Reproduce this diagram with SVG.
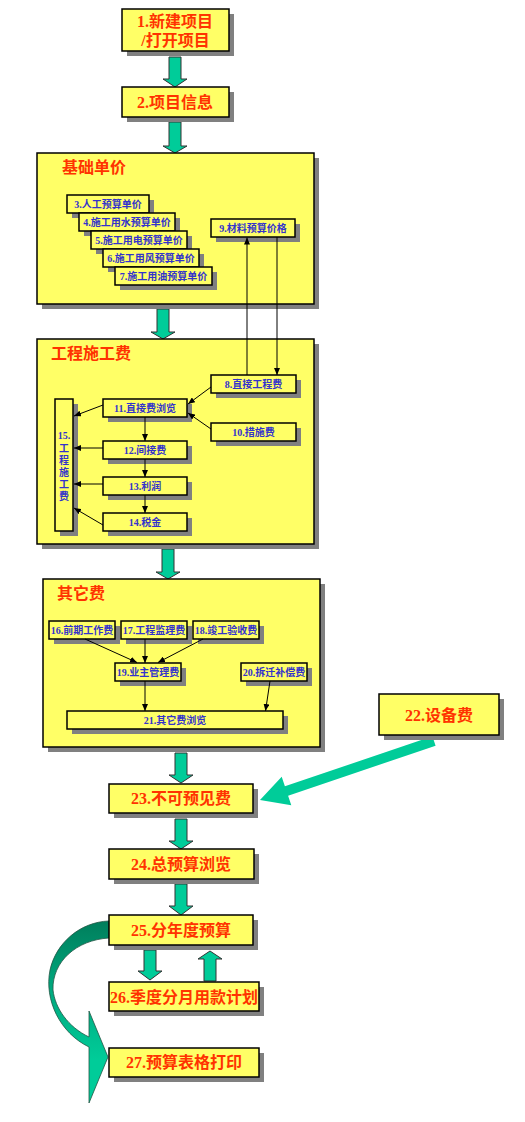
<svg xmlns="http://www.w3.org/2000/svg" width="525" height="1122" viewBox="0 0 525 1122">
<style>
.box{fill:#FFFF66;stroke:#000;stroke-width:1.5}
.sh{fill:#808080}
.big{font-family:"Liberation Serif","Noto Sans CJK SC",serif;font-weight:bold;font-size:16px;fill:#FF3300;text-anchor:middle}
.ttl{font-family:"Liberation Serif","Noto Sans CJK SC",serif;font-weight:bold;font-size:16px;fill:#FF3300}
.sm{font-family:"Liberation Serif","Noto Sans CJK SC",serif;font-weight:bold;font-size:10px;fill:#3333CC;text-anchor:middle}
.ga{fill:#00CC99;stroke:#333;stroke-width:1}
.ln{stroke:#000;stroke-width:1;fill:none;marker-end:url(#ah)}
</style>
<defs>
<marker id="ah" markerUnits="userSpaceOnUse" markerWidth="7" markerHeight="6" refX="7" refY="3" orient="auto">
<path d="M0,0 L7,3 L0,6 z" fill="#000"/>
</marker>
<linearGradient id="cg" gradientUnits="userSpaceOnUse" x1="0" y1="915" x2="0" y2="1060">
<stop offset="0" stop-color="#007A58"/>
<stop offset="0.45" stop-color="#00A37A"/>
<stop offset="1" stop-color="#00CC99"/>
</linearGradient>
</defs>
<rect width="525" height="1122" fill="#fff"/>

<!-- big green arrows -->
<g id="flow-arrows">
<polygon class="ga" points="169,57 181,57 181,79 187,79 175,87 163,79 169,79"/>
<polygon class="ga" points="169,122 181,122 181,146 187,146 175,153 163,146 169,146"/>
<polygon class="ga" points="157,309 169,309 169,332 175,332 163,339 151,332 157,332"/>
<polygon class="ga" points="162,549 174,549 174,572 180,572 168,579 156,572 162,572"/>
<polygon class="ga" points="175,753 187,753 187,775 193,775 181,783 169,775 175,775"/>
<polygon class="ga" points="175,819 187,819 187,841 193,841 181,849 169,841 175,841"/>
<polygon class="ga" points="175,884 187,884 187,906 193,906 181,915 169,906 175,906"/>
<polygon class="ga" points="144,950 156,950 156,971 162,971 150,980 138,971 144,971"/>
<polygon class="ga" points="204,981 216,981 216,959 222,959 210,951 198,959 204,959"/>
<polygon fill="#00CC99" points="260,800 281.7,776.8 284.9,786.3 432.4,736.3 435.6,745.7 288.1,795.7 291.3,805.2"/>
<path fill="url(#cg)" stroke="#225544" stroke-width="0.8" d="M109,921 C 80,922 56,943 50,970 C 44,1000 60,1033 89,1047 L 89,1103 L 108,1057 L 89,1011 L 89,1037 C 68,1027 55,1008 53,990 C 52,962 76,940 109,938 Z"/>
</g>

<!-- panels -->
<g id="panel-jichu">
<rect class="sh" x="42" y="158" width="277" height="151"/>
<rect class="box" x="37" y="153" width="277" height="151"/>
<text class="ttl" x="62" y="173">基础单价</text>
</g>
<g id="panel-gongcheng">
<rect class="sh" x="42" y="344" width="277" height="205"/>
<rect class="box" x="37" y="339" width="277" height="205"/>
<text class="ttl" x="51" y="359">工程施工费</text>
</g>
<g id="panel-qita">
<rect class="sh" x="48" y="584" width="277" height="168"/>
<rect class="box" x="43" y="579" width="277" height="168"/>
<text class="ttl" x="57" y="599">其它费</text>
</g>

<!-- main nodes -->
<g id="n1">
<rect class="sh" x="127" y="14" width="107" height="42"/>
<rect class="box" x="122" y="9" width="107" height="42"/>
<text class="big" x="175" y="27">1.新建项目</text>
<text class="big" x="175.5" y="46">/打开项目</text>
</g>
<g id="n2">
<rect class="sh" x="127" y="92" width="107" height="30"/>
<rect class="box" x="122" y="87" width="107" height="30"/>
<text class="big" x="175" y="108">2.项目信息</text>
</g>
<g id="n22">
<rect class="sh" x="384" y="699" width="120" height="41"/>
<rect class="box" x="379" y="694" width="120" height="41"/>
<text class="big" x="439" y="721">22.设备费</text>
</g>
<g id="n23">
<rect class="sh" x="114" y="789" width="144" height="29"/>
<rect class="box" x="109" y="784" width="144" height="29"/>
<text class="big" x="181" y="804">23.不可预见费</text>
</g>
<g id="n24">
<rect class="sh" x="114" y="854" width="145" height="30"/>
<rect class="box" x="109" y="849" width="145" height="30"/>
<text class="big" x="181" y="870">24.总预算浏览</text>
</g>
<g id="n25">
<rect class="sh" x="114" y="920" width="144" height="30"/>
<rect class="box" x="109" y="915" width="144" height="30"/>
<text class="big" x="181" y="936">25.分年度预算</text>
</g>
<g id="n26">
<rect class="sh" x="114" y="987" width="150" height="29"/>
<rect class="box" x="109" y="982" width="150" height="29"/>
<text class="big" x="184" y="1003">26.季度分月用款计划</text>
</g>
<g id="n27">
<rect class="sh" x="114" y="1053" width="150" height="29"/>
<rect class="box" x="109" y="1048" width="150" height="29"/>
<text class="big" x="184" y="1068">27.预算表格打印</text>
</g>

<!-- small nodes: 基础单价 -->
<g id="n3">
<rect class="sh" x="72" y="200" width="82" height="18"/>
<rect class="box" x="67" y="195" width="82" height="18"/>
<text class="sm" x="108" y="208">3.人工预算单价</text>
</g>
<g id="n4">
<rect class="sh" x="84" y="218" width="96" height="18"/>
<rect class="box" x="79" y="213" width="96" height="18"/>
<text class="sm" x="127" y="226">4.施工用水预算单价</text>
</g>
<g id="n5">
<rect class="sh" x="96" y="236" width="96" height="18"/>
<rect class="box" x="91" y="231" width="96" height="18"/>
<text class="sm" x="139" y="244">5.施工用电预算单价</text>
</g>
<g id="n6">
<rect class="sh" x="108" y="254" width="96" height="18"/>
<rect class="box" x="103" y="249" width="96" height="18"/>
<text class="sm" x="151" y="262">6.施工用风预算单价</text>
</g>
<g id="n7">
<rect class="sh" x="120" y="272" width="97" height="18"/>
<rect class="box" x="115" y="267" width="97" height="18"/>
<text class="sm" x="163.5" y="280">7.施工用油预算单价</text>
</g>
<g id="n9">
<rect class="sh" x="216" y="224" width="84" height="18"/>
<rect class="box" x="211" y="219" width="84" height="18"/>
<text class="sm" x="253" y="232">9.材料预算价格</text>
</g>

<!-- small nodes: 工程施工费 -->
<g id="n8">
<rect class="sh" x="216" y="380" width="85" height="18"/>
<rect class="box" x="211" y="375" width="85" height="18"/>
<text class="sm" x="253.5" y="388">8.直接工程费</text>
</g>
<g id="n10">
<rect class="sh" x="216" y="428" width="85" height="18"/>
<rect class="box" x="211" y="423" width="85" height="18"/>
<text class="sm" x="253.5" y="436">10.措施费</text>
</g>
<g id="n11">
<rect class="sh" x="108" y="404" width="84" height="18"/>
<rect class="box" x="103" y="399" width="84" height="18"/>
<text class="sm" x="145" y="412">11.直接费浏览</text>
</g>
<g id="n12">
<rect class="sh" x="108" y="446" width="84" height="18"/>
<rect class="box" x="103" y="441" width="84" height="18"/>
<text class="sm" x="145" y="454">12.间接费</text>
</g>
<g id="n13">
<rect class="sh" x="108" y="482" width="84" height="18"/>
<rect class="box" x="103" y="477" width="84" height="18"/>
<text class="sm" x="145" y="490">13.利润</text>
</g>
<g id="n14">
<rect class="sh" x="108" y="518" width="84" height="18"/>
<rect class="box" x="103" y="513" width="84" height="18"/>
<text class="sm" x="145" y="526">14.税金</text>
</g>
<g id="n15">
<rect class="sh" x="60" y="404" width="18" height="132"/>
<rect class="box" x="55" y="399" width="18" height="132"/>
<text class="sm" x="64" y="439">15.</text>
<text class="sm" x="64" y="452">工</text>
<text class="sm" x="64" y="464">程</text>
<text class="sm" x="64" y="476">施</text>
<text class="sm" x="64" y="488">工</text>
<text class="sm" x="64" y="500">费</text>
</g>

<!-- small nodes: 其它费 -->
<g id="n16">
<rect class="sh" x="54" y="626" width="66" height="18"/>
<rect class="box" x="49" y="621" width="66" height="18"/>
<text class="sm" x="82" y="634">16.前期工作费</text>
</g>
<g id="n17">
<rect class="sh" x="126" y="626" width="66" height="18"/>
<rect class="box" x="121" y="621" width="66" height="18"/>
<text class="sm" x="154" y="634">17.工程监理费</text>
</g>
<g id="n18">
<rect class="sh" x="198" y="626" width="66" height="18"/>
<rect class="box" x="193" y="621" width="66" height="18"/>
<text class="sm" x="226" y="634">18.竣工验收费</text>
</g>
<g id="n19">
<rect class="sh" x="120" y="668" width="66" height="18"/>
<rect class="box" x="115" y="663" width="66" height="18"/>
<text class="sm" x="148" y="676">19.业主管理费</text>
</g>
<g id="n20">
<rect class="sh" x="246" y="668" width="66" height="18"/>
<rect class="box" x="241" y="663" width="66" height="18"/>
<text class="sm" x="274" y="676">20.拆迁补偿费</text>
</g>
<g id="n21">
<rect class="sh" x="72" y="716" width="216" height="18"/>
<rect class="box" x="67" y="711" width="216" height="18"/>
<text class="sm" x="175" y="724">21.其它费浏览</text>
</g>

<!-- connectors -->
<g id="connectors">
<line class="ln" x1="247" y1="375" x2="247" y2="237.5"/>
<line class="ln" x1="277" y1="237" x2="277" y2="375"/>
<line class="ln" x1="211" y1="387" x2="188" y2="404"/>
<line class="ln" x1="211" y1="429" x2="188" y2="413"/>
<line class="ln" x1="103" y1="405" x2="74" y2="416"/>
<line class="ln" x1="103" y1="448" x2="74" y2="448"/>
<line class="ln" x1="103" y1="484" x2="74" y2="484"/>
<line class="ln" x1="103" y1="525" x2="74" y2="508"/>
<line class="ln" x1="145" y1="417" x2="145" y2="441"/>
<line class="ln" x1="145" y1="459" x2="145" y2="477"/>
<line class="ln" x1="145" y1="495" x2="145" y2="513"/>
<line class="ln" x1="85" y1="639" x2="137" y2="662.5"/>
<line class="ln" x1="145" y1="639" x2="145" y2="663"/>
<line class="ln" x1="203" y1="639" x2="158" y2="662.5"/>
<line class="ln" x1="145" y1="681" x2="145" y2="711"/>
<line class="ln" x1="270" y1="681" x2="265.5" y2="711"/>
</g>
</svg>
